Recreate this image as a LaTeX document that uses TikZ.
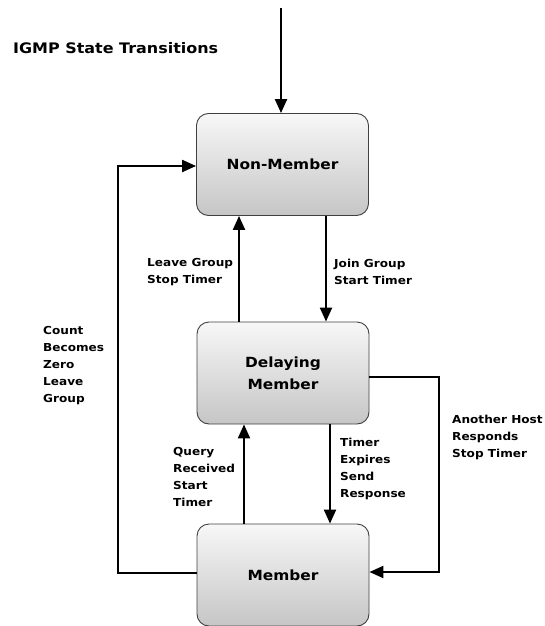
\documentclass[tikz,border=0pt]{standalone}
\usepackage{fontspec}
\setmainfont{DejaVu Sans}[FakeStretch=1.1]
\usetikzlibrary{arrows.meta,shadows}
\begin{document}
\begin{tikzpicture}[x=1pt,y=-1pt,
  statebox/.style={draw=black!75, line width=0.9pt, rounded corners=12pt,
    top color=gray!6, bottom color=gray!45, minimum width=172pt,
    minimum height=102pt, align=center, inner sep=0pt,
    font=\fontsize{14}{22}\selectfont\bfseries},
  lbl/.style={anchor=west, align=left, inner sep=0pt,
    font=\fontsize{11}{17}\selectfont\bfseries},
  arr/.style={line width=2.2pt, -{Triangle[length=14pt,width=12pt]}},
  ln/.style={line width=2.2pt}]
\useasboundingbox (0,0) rectangle (545,626);
\node[anchor=west, inner sep=0pt, font=\fontsize{14.5}{17}\selectfont\bfseries] (title) at (13,48) {IGMP State Transitions};
\node[statebox] (nm) at (282.5,164.5) {Non-Member};
\node[statebox] (dm) at (283,373) {Delaying\\Member};
\node[statebox] (mb) at (283,575) {Member};
\coordinate (start) at (281,8);
\draw[arr] (start) -- (start |- nm.north);
% Non-Member <-> Delaying
\draw[arr] (nm.south -| 326,0) -- (dm.north -| 326,0);
\draw[arr] (dm.north -| 239,0) -- (nm.south -| 239,0);
% Delaying <-> Member
\draw[arr] (dm.south -| 330,0) -- (mb.north -| 330,0);
\draw[arr] (mb.north -| 244,0) -- (dm.south -| 244,0);
% left loop
\coordinate (l1) at (118,573);
\coordinate (l2) at (118,166);
\draw[arr] (mb.west |- l1) -- (l1) -- (l2) -- (nm.west |- l2);
% right loop
\coordinate (r1) at (439,377);
\coordinate (r2) at (439,572);
\draw[arr] (dm.east |- r1) -- (r1) -- (r2) -- (mb.east |- r2);
% labels
\node[lbl] (lleave) at (147,272) {Leave Group\\Stop Timer};
\node[lbl] (ljoin) at (334,272) {Join Group\\Start Timer};
\node[lbl] (lcount) at (43,366) {Count\\Becomes\\Zero\\Leave\\Group};
\node[lbl] (lquery) at (173,477) {Query\\Received\\Start\\Timer};
\node[lbl] (ltimer) at (340,469) {Timer\\Expires\\Send\\Response};
\node[lbl] (lhost) at (452,437) {Another Host\\Responds\\Stop Timer};
\end{tikzpicture}
\end{document}
